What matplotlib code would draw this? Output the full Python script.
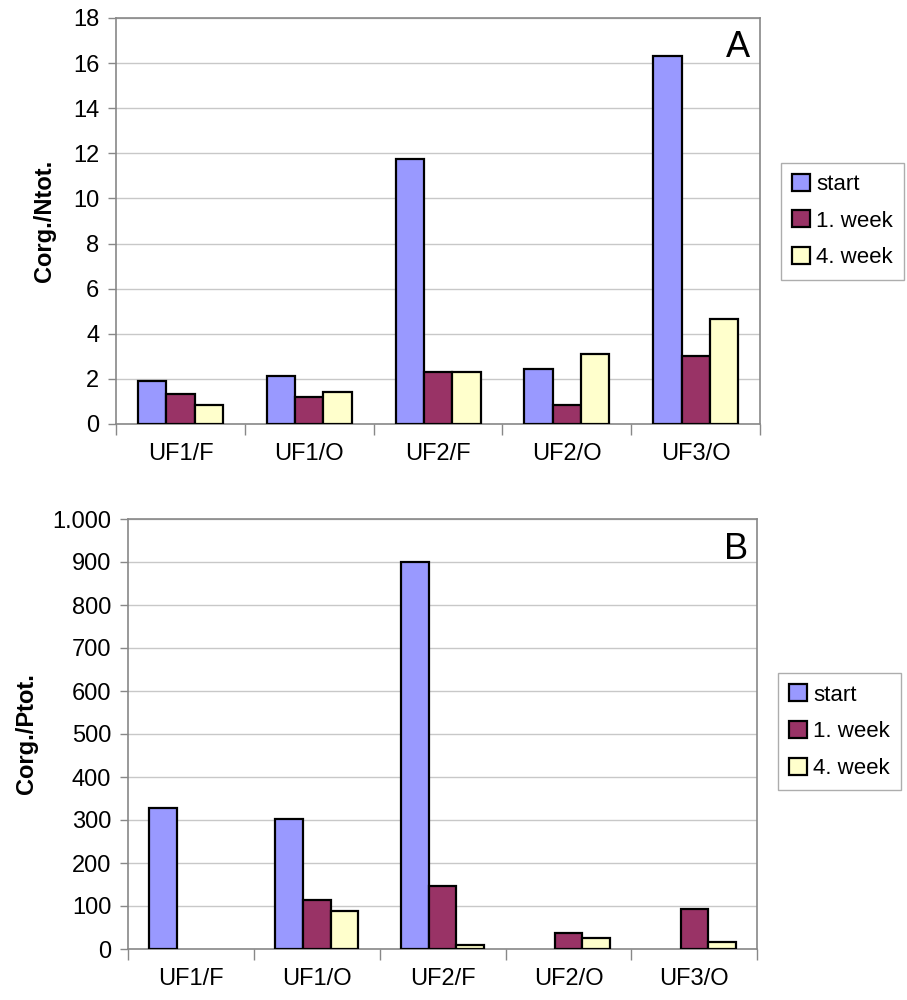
import numpy as np
import matplotlib
matplotlib.use('Agg')
from matplotlib import pyplot as plt
from matplotlib.ticker import FuncFormatter

plt.rcParams['font.family'] = ['Liberation Sans', 'DejaVu Sans']

categories = ['UF1/F', 'UF1/O', 'UF2/F', 'UF2/O', 'UF3/O']
series = ['start', '1. week', '4. week']
colors = ['#9999FF', '#993366', '#FFFFCC']

# Corg./Ntot.
cn_start = [1.89, 2.14, 11.76, 2.46, 16.31]
cn_week1 = [1.34, 1.20, 2.29, 0.86, 3.01]
cn_week4 = [0.86, 1.43, 2.29, 3.09, 4.67]

# Corg./Ptot. (0 = no bar)
cp_start = [327, 302, 900, 0, 0]
cp_week1 = [0, 113, 147, 37, 93]
cp_week4 = [0, 88, 9, 25, 17]

fig = plt.figure(figsize=(9.07, 10), dpi=100)
ax1 = fig.add_axes([0.128, 0.576, 0.710, 0.406])
ax2 = fig.add_axes([0.141, 0.051, 0.694, 0.430])


def draw(ax, data, ymax, ystep, ylabel, letter, fmt, ypad, legend_y):
    x = np.arange(len(categories))
    w = 0.22
    for i, (vals, c, name) in enumerate(zip(data, colors, series)):
        heights = [v if v > 0 else np.nan for v in vals]
        ax.bar(x + (i - 1) * w, heights, w, color=c, edgecolor='black',
               linewidth=1.6, label=name, zorder=3)
    ax.set_xlim(-0.5, len(categories) - 0.5)
    ax.set_ylim(0, ymax)
    ax.set_yticks(np.arange(0, ymax + ystep / 2, ystep))
    ax.yaxis.set_major_formatter(FuncFormatter(fmt))
    ax.set_xticks(x)
    ax.set_xticklabels(categories)
    ax.set_xticks(np.arange(-0.5, len(categories)), minor=True)
    ax.tick_params(axis='x', which='major', length=0, pad=14, labelsize=17)
    ax.tick_params(axis='x', which='minor', length=8, width=1, color='#888888')
    ax.tick_params(axis='y', length=6, width=1, color='#888888', labelsize=17, pad=6)
    ax.grid(axis='y', color='#c8c8c8', linewidth=1, zorder=0)
    for s in ax.spines.values():
        s.set_color('#888888')
        s.set_linewidth(1.2)
    ax.set_ylabel(ylabel, fontsize=17, fontweight='bold', labelpad=ypad)
    ax.text(0.985, 0.97, letter, transform=ax.transAxes, ha='right', va='top',
            fontsize=26)
    leg = ax.legend(loc='center left', bbox_to_anchor=(1.015, legend_y),
                    fontsize=16, frameon=True, fancybox=False, handlelength=0.8,
                    handleheight=0.8, handletextpad=0.3, labelspacing=0.7,
                    borderpad=0.5)
    leg.get_frame().set_edgecolor('#999999')
    leg.get_frame().set_linewidth(1)


draw(ax1, [cn_start, cn_week1, cn_week4], 18, 2, 'Corg./Ntot.', 'A',
     lambda v, p: f'{int(v)}', 12, 0.50)
draw(ax2, [cp_start, cp_week1, cp_week4], 1000, 100, 'Corg./Ptot.', 'B',
     lambda v, p: f'{int(v):,}'.replace(',', '.'), 10, 0.505)

fig.savefig('out.png', dpi=100)
